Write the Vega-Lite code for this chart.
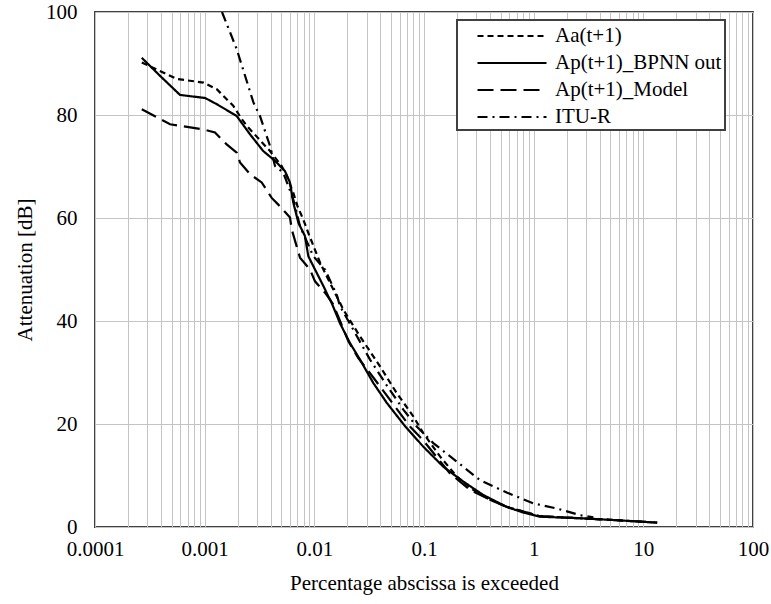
{
  "$schema": "https://vega.github.io/schema/vega-lite/v6.json",
  "width": 658,
  "height": 515,
  "autosize": {"type": "none"},
  "padding": {"left": 95, "top": 12, "right": 18, "bottom": 77},
  "background": "white",
  "config": {
    "font": "Liberation Serif",
    "view": {"stroke": "#404040", "strokeWidth": 2},
    "axis": {"labelFont": "Liberation Serif", "titleFont": "Liberation Serif", "labelColor": "black", "titleColor": "black", "titleFontWeight": "normal", "gridColor": "#c4c4c4", "gridWidth": 1, "domain": false, "ticks": false},
    "legend": {"labelFont": "Liberation Serif", "labelColor": "black"}
  },
  "data": {"values": [
    {"s":"Aa(t+1)","x":0.000267,"y":90.2},
    {"s":"Aa(t+1)","x":0.000556,"y":87.0},
    {"s":"Aa(t+1)","x":0.000973,"y":86.3},
    {"s":"Aa(t+1)","x":0.00129,"y":85.0},
    {"s":"Aa(t+1)","x":0.00182,"y":81.8},
    {"s":"Aa(t+1)","x":0.00218,"y":79.2},
    {"s":"Aa(t+1)","x":0.00242,"y":77.9},
    {"s":"Aa(t+1)","x":0.00394,"y":73.0},
    {"s":"Aa(t+1)","x":0.00504,"y":70.1},
    {"s":"Aa(t+1)","x":0.0056,"y":68.2},
    {"s":"Aa(t+1)","x":0.00643,"y":64.9},
    {"s":"Aa(t+1)","x":0.00702,"y":62.3},
    {"s":"Aa(t+1)","x":0.00793,"y":59.7},
    {"s":"Aa(t+1)","x":0.00881,"y":57.1},
    {"s":"Aa(t+1)","x":0.0113,"y":51.3},
    {"s":"Aa(t+1)","x":0.0136,"y":47.8},
    {"s":"Aa(t+1)","x":0.0184,"y":42.2},
    {"s":"Aa(t+1)","x":0.0261,"y":37.0},
    {"s":"Aa(t+1)","x":0.0397,"y":31.2},
    {"s":"Aa(t+1)","x":0.0564,"y":26.0},
    {"s":"Aa(t+1)","x":0.0798,"y":21.5},
    {"s":"Aa(t+1)","x":0.0986,"y":18.2},
    {"s":"Aa(t+1)","x":0.140,"y":13.7},
    {"s":"Aa(t+1)","x":0.199,"y":9.8},
    {"s":"Aa(t+1)","x":0.281,"y":7.2},
    {"s":"Aa(t+1)","x":0.400,"y":5.3},
    {"s":"Aa(t+1)","x":0.569,"y":3.9},
    {"s":"Aa(t+1)","x":1.143,"y":2.1},
    {"s":"Aa(t+1)","x":2.64,"y":1.7},
    {"s":"Aa(t+1)","x":5.29,"y":1.36},
    {"s":"Aa(t+1)","x":13.36,"y":0.85},

    {"s":"Ap(t+1)_BPNN out","x":0.000267,"y":91.1},
    {"s":"Ap(t+1)_BPNN out","x":0.000392,"y":87.6},
    {"s":"Ap(t+1)_BPNN out","x":0.000596,"y":83.9},
    {"s":"Ap(t+1)_BPNN out","x":0.00101,"y":83.3},
    {"s":"Ap(t+1)_BPNN out","x":0.00129,"y":82.1},
    {"s":"Ap(t+1)_BPNN out","x":0.00196,"y":79.8},
    {"s":"Ap(t+1)_BPNN out","x":0.00258,"y":76.3},
    {"s":"Ap(t+1)_BPNN out","x":0.00342,"y":73.0},
    {"s":"Ap(t+1)_BPNN out","x":0.00438,"y":71.1},
    {"s":"Ap(t+1)_BPNN out","x":0.0054,"y":69.1},
    {"s":"Ap(t+1)_BPNN out","x":0.00599,"y":66.9},
    {"s":"Ap(t+1)_BPNN out","x":0.00643,"y":63.0},
    {"s":"Ap(t+1)_BPNN out","x":0.00715,"y":59.1},
    {"s":"Ap(t+1)_BPNN out","x":0.00821,"y":56.5},
    {"s":"Ap(t+1)_BPNN out","x":0.00881,"y":52.6},
    {"s":"Ap(t+1)_BPNN out","x":0.01014,"y":50.0},
    {"s":"Ap(t+1)_BPNN out","x":0.01209,"y":46.8},
    {"s":"Ap(t+1)_BPNN out","x":0.0134,"y":44.8},
    {"s":"Ap(t+1)_BPNN out","x":0.0144,"y":43.5},
    {"s":"Ap(t+1)_BPNN out","x":0.0171,"y":39.6},
    {"s":"Ap(t+1)_BPNN out","x":0.02115,"y":35.7},
    {"s":"Ap(t+1)_BPNN out","x":0.0261,"y":32.5},
    {"s":"Ap(t+1)_BPNN out","x":0.0344,"y":28.0},
    {"s":"Ap(t+1)_BPNN out","x":0.0458,"y":24.1},
    {"s":"Ap(t+1)_BPNN out","x":0.0665,"y":19.7},
    {"s":"Ap(t+1)_BPNN out","x":0.0985,"y":15.6},
    {"s":"Ap(t+1)_BPNN out","x":0.150,"y":11.7},
    {"s":"Ap(t+1)_BPNN out","x":0.229,"y":8.8},
    {"s":"Ap(t+1)_BPNN out","x":0.348,"y":6.2},
    {"s":"Ap(t+1)_BPNN out","x":0.569,"y":3.9},
    {"s":"Ap(t+1)_BPNN out","x":0.804,"y":2.8},
    {"s":"Ap(t+1)_BPNN out","x":1.143,"y":2.0},
    {"s":"Ap(t+1)_BPNN out","x":2.64,"y":1.7},
    {"s":"Ap(t+1)_BPNN out","x":5.29,"y":1.36},
    {"s":"Ap(t+1)_BPNN out","x":13.36,"y":0.85},

    {"s":"Ap(t+1)_Model","x":0.000267,"y":81.1},
    {"s":"Ap(t+1)_Model","x":0.000483,"y":78.2},
    {"s":"Ap(t+1)_Model","x":0.000972,"y":77.2},
    {"s":"Ap(t+1)_Model","x":0.001242,"y":76.6},
    {"s":"Ap(t+1)_Model","x":0.001588,"y":74.3},
    {"s":"Ap(t+1)_Model","x":0.001959,"y":72.7},
    {"s":"Ap(t+1)_Model","x":0.0021,"y":70.8},
    {"s":"Ap(t+1)_Model","x":0.002591,"y":68.5},
    {"s":"Ap(t+1)_Model","x":0.003311,"y":66.9},
    {"s":"Ap(t+1)_Model","x":0.004086,"y":63.9},
    {"s":"Ap(t+1)_Model","x":0.004692,"y":62.6},
    {"s":"Ap(t+1)_Model","x":0.006,"y":60.1},
    {"s":"Ap(t+1)_Model","x":0.00622,"y":57.8},
    {"s":"Ap(t+1)_Model","x":0.0069,"y":54.5},
    {"s":"Ap(t+1)_Model","x":0.0074,"y":52.3},
    {"s":"Ap(t+1)_Model","x":0.00913,"y":50.0},
    {"s":"Ap(t+1)_Model","x":0.01014,"y":47.7},
    {"s":"Ap(t+1)_Model","x":0.01251,"y":45.5},
    {"s":"Ap(t+1)_Model","x":0.01489,"y":43.2},
    {"s":"Ap(t+1)_Model","x":0.0204,"y":36.1},
    {"s":"Ap(t+1)_Model","x":0.02518,"y":32.8},
    {"s":"Ap(t+1)_Model","x":0.03573,"y":28.6},
    {"s":"Ap(t+1)_Model","x":0.05437,"y":23.4},
    {"s":"Ap(t+1)_Model","x":0.07452,"y":19.5},
    {"s":"Ap(t+1)_Model","x":0.0976,"y":16.9},
    {"s":"Ap(t+1)_Model","x":0.1726,"y":10.4},
    {"s":"Ap(t+1)_Model","x":0.2626,"y":7.2},
    {"s":"Ap(t+1)_Model","x":0.3997,"y":5.3},
    {"s":"Ap(t+1)_Model","x":0.569,"y":3.9},
    {"s":"Ap(t+1)_Model","x":1.143,"y":2.1},
    {"s":"Ap(t+1)_Model","x":2.64,"y":1.7},
    {"s":"Ap(t+1)_Model","x":5.29,"y":1.36},
    {"s":"Ap(t+1)_Model","x":13.36,"y":0.85},

    {"s":"ITU-R","x":0.001439,"y":100},
    {"s":"ITU-R","x":0.001959,"y":92.8},
    {"s":"ITU-R","x":0.002777,"y":82.5},
    {"s":"ITU-R","x":0.003195,"y":79.8},
    {"s":"ITU-R","x":0.003941,"y":74.0},
    {"s":"ITU-R","x":0.004378,"y":70.1},
    {"s":"ITU-R","x":0.005212,"y":68.8},
    {"s":"ITU-R","x":0.00643,"y":63.6},
    {"s":"ITU-R","x":0.0074,"y":58.4},
    {"s":"ITU-R","x":0.00978,"y":52.6},
    {"s":"ITU-R","x":0.01251,"y":50.0},
    {"s":"ITU-R","x":0.016,"y":45.1},
    {"s":"ITU-R","x":0.01714,"y":42.9},
    {"s":"ITU-R","x":0.02266,"y":38.3},
    {"s":"ITU-R","x":0.0322,"y":32.5},
    {"s":"ITU-R","x":0.0457,"y":27.5},
    {"s":"ITU-R","x":0.06476,"y":22.8},
    {"s":"ITU-R","x":0.0858,"y":19.5},
    {"s":"ITU-R","x":0.1215,"y":16.3},
    {"s":"ITU-R","x":0.1987,"y":12.7},
    {"s":"ITU-R","x":0.324,"y":9.1},
    {"s":"ITU-R","x":0.5675,"y":6.7},
    {"s":"ITU-R","x":0.992,"y":4.6},
    {"s":"ITU-R","x":1.622,"y":3.6},
    {"s":"ITU-R","x":2.645,"y":2.3},
    {"s":"ITU-R","x":3.498,"y":1.9}
  ]},
  "mark": {"type": "line", "color": "black", "strokeWidth": 2.2, "clip": true},
  "encoding": {
    "x": {
      "field": "x", "type": "quantitative",
      "scale": {"type": "log", "domain": [0.0001, 100], "nice": false},
      "axis": {
        "title": "Percentage abscissa is exceeded",
        "values": [0.0001,0.0002,0.0003,0.0004,0.0005,0.0006,0.0007,0.0008,0.0009,0.001,0.002,0.003,0.004,0.005,0.006,0.007,0.008,0.009,0.01,0.02,0.03,0.04,0.05,0.06,0.07,0.08,0.09,0.1,0.2,0.3,0.4,0.5,0.6,0.7,0.8,0.9,1,2,3,4,5,6,7,8,9,10,20,30,40,50,60,70,80,90,100],
        "labelExpr": "indexof([0.0001,0.001,0.01,0.1,1,10,100], datum.value) >= 0 ? toString(datum.value) : ''",
        "labelOverlap": false,
        "labelFlush": false,
        "labelFontSize": 21,
        "labelPadding": 11,
        "titleFontSize": 21,
        "titlePadding": 13,
        "grid": true
      }
    },
    "y": {
      "field": "y", "type": "quantitative",
      "scale": {"domain": [0, 100], "nice": false},
      "axis": {
        "title": "Attenuation [dB]",
        "values": [0, 20, 40, 60, 80, 100],
        "labelFontSize": 21,
        "labelFlush": false,
        "labelPadding": 18,
        "titleFontSize": 21,
        "titlePadding": 10,
        "grid": true
      }
    },
    "strokeDash": {
      "field": "s", "type": "nominal",
      "sort": ["Aa(t+1)", "Ap(t+1)_BPNN out", "Ap(t+1)_Model", "ITU-R"],
      "scale": {"domain": ["Aa(t+1)", "Ap(t+1)_BPNN out", "Ap(t+1)_Model", "ITU-R"], "range": [[6, 4], [1, 0], [16, 7], [10, 5, 2, 5]]},
      "legend": {
        "title": null,
        "orient": "none",
        "legendX": 362,
        "legendY": 8,
        "symbolType": "M-3,0H3",
        "symbolSize": 529,
        "symbolStrokeWidth": 2.2,
        "symbolStrokeColor": "black",
        "symbolOffset": 39,
        "labelFontSize": 21,
        "labelOffset": 30,
        "labelLimit": 400,
        "rowPadding": 4,
        "padding": 3,
        "fillColor": "white",
        "strokeColor": "#404040",
        "encode": {"legend": {"update": {"strokeWidth": {"value": 2}}}}
      }
    }
  }
}
